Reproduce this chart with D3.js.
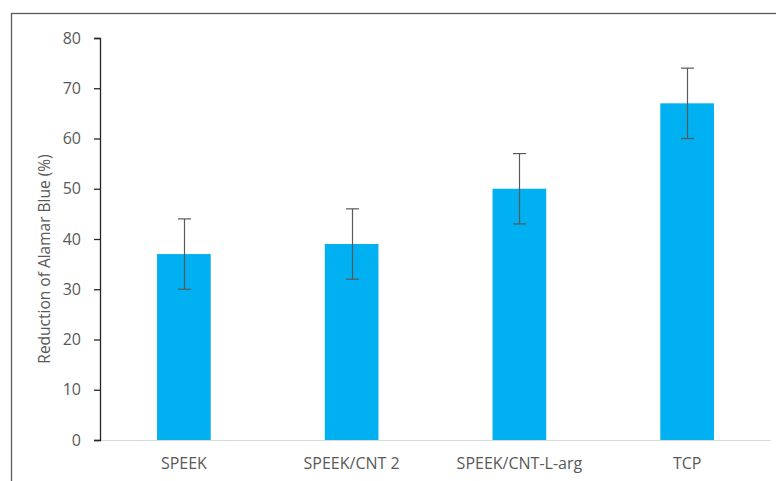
<!DOCTYPE html>
<html>
<head>
<meta charset="utf-8">
<script src="https://cdn.jsdelivr.net/npm/d3@7"></script>
<style>
  html, body { margin: 0; padding: 0; background: #fff; }
  svg { display: block; }
  text { font-family: "Open Sans", "Noto Sans", sans-serif; fill: #595959; }
</style>
</head>
<body>
<svg id="chart" width="776" height="481"></svg>
<script>
// Alamar Blue reduction per substrate, with standard deviation
const categories = ["SPEEK", "SPEEK/CNT 2", "SPEEK/CNT-L-arg", "TCP"];
const values = [37, 39, 50, 67];
const errors = [7, 7, 7, 7];
const yTicks = [0, 10, 20, 30, 40, 50, 60, 70, 80];
const yTitle = "Reduction of Alamar Blue (%)";

const svg = d3.select("#chart");
const W = 776, H = 481;
const m = { left: 100, right: 5, top: 38, bottom: 41 };
const fontSize = 16;

// outer frame (right and bottom edges fall outside the view)
svg.append("rect")
  .attr("x", 11.5).attr("y", 13.5)
  .attr("width", W + 10).attr("height", H + 10)
  .attr("fill", "none").attr("stroke", "#595959").attr("stroke-width", 1.3);

const x = d3.scaleBand()
  .domain(categories)
  .range([m.left, W - m.right])
  .paddingInner(0.68).paddingOuter(0.34);

const y = d3.scaleLinear().domain([0, 80]).range([H - m.bottom, m.top]);

// x baseline
svg.append("line")
  .attr("x1", m.left).attr("x2", W - m.right)
  .attr("y1", y(0) + 0.5).attr("y2", y(0) + 0.5)
  .attr("stroke", "#d9d9d9").attr("stroke-width", 1);

// bars
svg.append("g").selectAll("rect")
  .data(categories)
  .join("rect")
  .attr("x", d => x(d))
  .attr("width", x.bandwidth())
  .attr("y", (d, i) => y(values[i]))
  .attr("height", (d, i) => y(0) - y(values[i]))
  .attr("fill", "#00b0f0");

// error bars
const eg = svg.append("g").attr("stroke", "#595959").attr("stroke-width", 1.2);
categories.forEach((c, i) => {
  const cx = Math.round(x(c) + x.bandwidth() / 2) + 0.5;
  const lo = y(values[i] - errors[i]), hi = y(values[i] + errors[i]);
  eg.append("line").attr("x1", cx).attr("x2", cx).attr("y1", lo).attr("y2", hi);
  eg.append("line").attr("x1", cx - 6.5).attr("x2", cx + 6.5).attr("y1", lo).attr("y2", lo);
  eg.append("line").attr("x1", cx - 6.5).attr("x2", cx + 6.5).attr("y1", hi).attr("y2", hi);
});

// y axis
const yAxis = svg.append("g")
  .attr("transform", `translate(${m.left},0)`)
  .call(d3.axisLeft(y).tickValues(yTicks).tickSize(6).tickPadding(13));
yAxis.select(".domain").attr("stroke", "#262626").attr("stroke-width", 1.3);
yAxis.selectAll(".tick line").attr("stroke", "#262626").attr("stroke-width", 1.3);
yAxis.selectAll(".tick text")
  .style("font-family", '"Open Sans", sans-serif')
  .attr("font-size", fontSize).attr("fill", "#595959");

// x category labels
const xAxis = svg.append("g")
  .attr("transform", `translate(0,${y(0)})`)
  .call(d3.axisBottom(x).tickSize(0).tickPadding(18));
xAxis.select(".domain").remove();
xAxis.selectAll(".tick text")
  .style("font-family", '"Open Sans", sans-serif')
  .attr("font-size", fontSize).attr("fill", "#595959");

// y title
svg.append("text")
  .attr("transform", `translate(50,${(y(0) + y(80)) / 2 + 20}) rotate(-90)`)
  .attr("text-anchor", "middle")
  .attr("font-size", 15.5)
  .text(yTitle);
</script>
</body>
</html>
